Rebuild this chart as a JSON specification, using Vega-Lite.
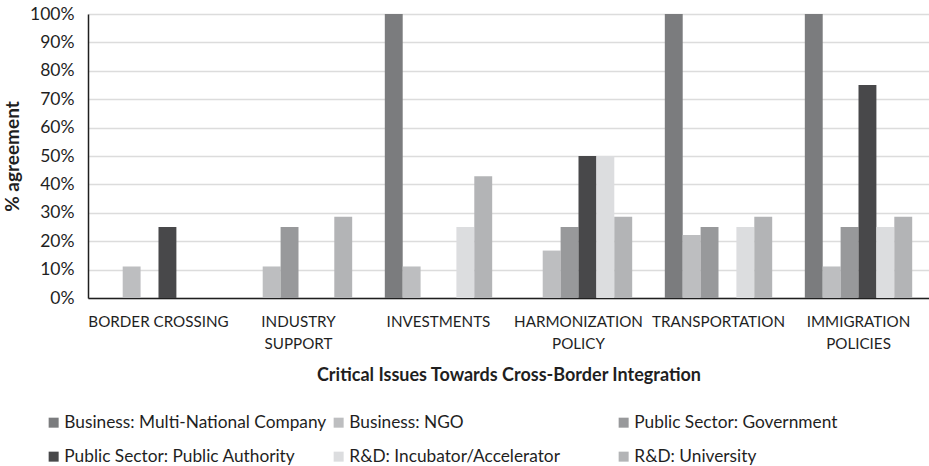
{
  "$schema": "https://vega.github.io/schema/vega-lite/v6.json",
  "width": 841,
  "height": 284,
  "autosize": {"type": "none"},
  "padding": {"left": 88, "top": 14, "right": 0, "bottom": 168},
  "background": "white",
  "config": {
    "font": "Lato",
    "view": {"stroke": null},
    "axis": {"labelColor": "#1f1f1f", "titleColor": "#1f1f1f", "titleFontWeight": "bold"}
  },
  "data": {
    "values": [
      {"issue": "BORDER CROSSING", "group": "Business: Multi-National Company", "pct": 0},
      {"issue": "BORDER CROSSING", "group": "Business: NGO", "pct": 11.1},
      {"issue": "BORDER CROSSING", "group": "Public Sector: Government", "pct": 0},
      {"issue": "BORDER CROSSING", "group": "Public Sector: Public Authority", "pct": 25},
      {"issue": "BORDER CROSSING", "group": "R&D: Incubator/Accelerator", "pct": 0},
      {"issue": "BORDER CROSSING", "group": "R&D: University", "pct": 0},
      {"issue": "INDUSTRY SUPPORT", "group": "Business: Multi-National Company", "pct": 0},
      {"issue": "INDUSTRY SUPPORT", "group": "Business: NGO", "pct": 11.1},
      {"issue": "INDUSTRY SUPPORT", "group": "Public Sector: Government", "pct": 25},
      {"issue": "INDUSTRY SUPPORT", "group": "Public Sector: Public Authority", "pct": 0},
      {"issue": "INDUSTRY SUPPORT", "group": "R&D: Incubator/Accelerator", "pct": 0},
      {"issue": "INDUSTRY SUPPORT", "group": "R&D: University", "pct": 28.6},
      {"issue": "INVESTMENTS", "group": "Business: Multi-National Company", "pct": 100},
      {"issue": "INVESTMENTS", "group": "Business: NGO", "pct": 11.1},
      {"issue": "INVESTMENTS", "group": "Public Sector: Government", "pct": 0},
      {"issue": "INVESTMENTS", "group": "Public Sector: Public Authority", "pct": 0},
      {"issue": "INVESTMENTS", "group": "R&D: Incubator/Accelerator", "pct": 25},
      {"issue": "INVESTMENTS", "group": "R&D: University", "pct": 42.9},
      {"issue": "HARMONIZATION POLICY", "group": "Business: Multi-National Company", "pct": 0},
      {"issue": "HARMONIZATION POLICY", "group": "Business: NGO", "pct": 16.7},
      {"issue": "HARMONIZATION POLICY", "group": "Public Sector: Government", "pct": 25},
      {"issue": "HARMONIZATION POLICY", "group": "Public Sector: Public Authority", "pct": 50},
      {"issue": "HARMONIZATION POLICY", "group": "R&D: Incubator/Accelerator", "pct": 50},
      {"issue": "HARMONIZATION POLICY", "group": "R&D: University", "pct": 28.6},
      {"issue": "TRANSPORTATION", "group": "Business: Multi-National Company", "pct": 100},
      {"issue": "TRANSPORTATION", "group": "Business: NGO", "pct": 22.2},
      {"issue": "TRANSPORTATION", "group": "Public Sector: Government", "pct": 25},
      {"issue": "TRANSPORTATION", "group": "Public Sector: Public Authority", "pct": 0},
      {"issue": "TRANSPORTATION", "group": "R&D: Incubator/Accelerator", "pct": 25},
      {"issue": "TRANSPORTATION", "group": "R&D: University", "pct": 28.6},
      {"issue": "IMMIGRATION POLICIES", "group": "Business: Multi-National Company", "pct": 100},
      {"issue": "IMMIGRATION POLICIES", "group": "Business: NGO", "pct": 11.1},
      {"issue": "IMMIGRATION POLICIES", "group": "Public Sector: Government", "pct": 25},
      {"issue": "IMMIGRATION POLICIES", "group": "Public Sector: Public Authority", "pct": 75},
      {"issue": "IMMIGRATION POLICIES", "group": "R&D: Incubator/Accelerator", "pct": 25},
      {"issue": "IMMIGRATION POLICIES", "group": "R&D: University", "pct": 28.6}
    ]
  },
  "mark": {"type": "bar"},
  "encoding": {
    "x": {
      "field": "issue",
      "type": "nominal",
      "sort": ["BORDER CROSSING", "INDUSTRY SUPPORT", "INVESTMENTS", "HARMONIZATION POLICY", "TRANSPORTATION", "IMMIGRATION POLICIES"],
      "scale": {"paddingInner": 0.233, "paddingOuter": 0.12},
      "axis": {
        "title": "Critical Issues Towards Cross-Border Integration",
        "titleFontSize": 18,
        "labelFontSize": 15.2,
        "labelAngle": 0,
        "labelExpr": "datum.value == 'BORDER CROSSING' ? datum.value : split(datum.value, ' ')",
        "labelLineHeight": 22.5,
        "labelPadding": 16,
        "labelBaseline": "top",
        "ticks": false,
        "domainColor": "#1f1f1f",
        "domainWidth": 1.5,
        "titlePadding": 15
      }
    },
    "xOffset": {
      "field": "group",
      "type": "nominal",
      "sort": ["Business: Multi-National Company", "Business: NGO", "Public Sector: Government", "Public Sector: Public Authority", "R&D: Incubator/Accelerator", "R&D: University"]
    },
    "y": {
      "field": "pct",
      "type": "quantitative",
      "scale": {"domain": [0, 100]},
      "axis": {
        "title": "% agreement",
        "titleFontSize": 19,
        "labelFontSize": 17.5,
        "values": [0, 10, 20, 30, 40, 50, 60, 70, 80, 90, 100],
        "labelExpr": "datum.value + '%'",
        "ticks": false,
        "domainColor": "#1f1f1f",
        "domainWidth": 1.5,
        "gridColor": "#dcdcdc",
        "gridWidth": 1.5,
        "labelPadding": 14,
        "titlePadding": 7
      }
    },
    "color": {
      "field": "group",
      "type": "nominal",
      "scale": {
        "domain": ["Business: Multi-National Company", "Business: NGO", "Public Sector: Government", "Public Sector: Public Authority", "R&D: Incubator/Accelerator", "R&D: University"],
        "range": ["#7b7c7e", "#bdbec0", "#98999b", "#48484a", "#dcdddf", "#b3b4b6"]
      },
      "legend": {
        "title": null,
        "orient": "none",
        "legendX": -43,
        "legendY": 400,
        "direction": "horizontal",
        "columns": 3,
        "gridAlign": "all",
        "columnPadding": 3,
        "rowPadding": 16,
        "symbolType": "square",
        "symbolSize": 100,
        "symbolStrokeWidth": 0,
        "labelFontSize": 17.3,
        "labelColor": "#1f1f1f",
        "labelOffset": 2,
        "labelLimit": 400
      }
    }
  }
}
